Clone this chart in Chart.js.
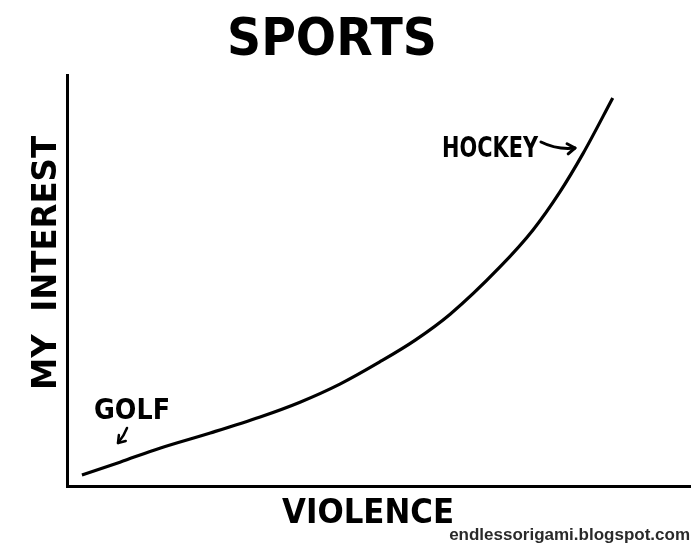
<!DOCTYPE html>
<html lang="en">
<head>
<meta charset="UTF-8">
<title>Sports</title>
<script src="https://cdn.jsdelivr.net/npm/chart.js@4.4.1/dist/chart.umd.min.js"></script>
<style>
  html, body { margin: 0; padding: 0; background: #fff; }
  #wrap { width: 700px; height: 559px; position: relative; }
</style>
</head>
<body>
<div id="wrap"><canvas id="myChart" width="700" height="559"></canvas></div>
<script>
// violence (x) vs my interest (y), 0-100 scale
var violence = [2.4, 8.5, 14.9, 23.0, 31.0, 37.4, 43.8, 50.2, 55.9, 61.5, 69.5, 74.8, 79.1, 82.8, 87.6];
var interest = [2.7, 5.8, 9.2, 12.9, 16.8, 20.4, 24.8, 30.2, 35.5, 41.8, 53.3, 62.3, 71.5, 80.8, 94.4];
var titleText = "SPORTS";
var xLabel = "VIOLENCE";
var yLabel = "MY  INTEREST";
var notes = ["HOCKEY", "GOLF"];
var credit = "endlessorigami.blogspot.com";

var pts = [];
for (var i = 0; i < violence.length; i++) {
    pts.push({x: violence[i], y: interest[i]});
}

function arrow(ctx, x1, y1, cx, cy, x2, y2, head) {
    ctx.beginPath();
    ctx.moveTo(x1, y1);
    ctx.quadraticCurveTo(cx, cy, x2, y2);
    ctx.stroke();
    var a = Math.atan2(y2 - cy, x2 - cx);
    ctx.beginPath();
    ctx.moveTo(x2 - head * Math.cos(a - 0.6), y2 - head * Math.sin(a - 0.6));
    ctx.lineTo(x2, y2);
    ctx.lineTo(x2 - head * Math.cos(a + 0.6), y2 - head * Math.sin(a + 0.6));
    ctx.stroke();
}

// all the hand lettering
var sketchText = {
    id: 'sketchText',
    afterDraw: function(chart) {
        var ctx = chart.ctx;
        ctx.save();
        ctx.fillStyle = '#000';
        ctx.strokeStyle = '#000';
        ctx.lineCap = 'round';
        ctx.lineJoin = 'round';
        ctx.textAlign = 'center';
        ctx.textBaseline = 'alphabetic';

        ctx.font = '900 52px "DejaVu Sans"';
        ctx.fillText(titleText, 332, 55, 210);

        ctx.font = 'bold 34px "DejaVu Sans"';
        ctx.fillText(xLabel, 368, 523, 172);

        ctx.save();
        ctx.translate(56, 263);
        ctx.rotate(-Math.PI / 2);
        ctx.font = 'bold 34px "DejaVu Sans"';
        ctx.fillText(yLabel, 0, 0, 254);
        ctx.restore();

        ctx.font = 'bold 28px "DejaVu Sans"';
        ctx.fillText(notes[0], 490, 157, 96);
        ctx.fillText(notes[1], 132, 419, 76);

        ctx.lineWidth = 3;
        arrow(ctx, 541, 142, 557, 150, 575, 148, 9);
        ctx.lineWidth = 2.5;
        arrow(ctx, 127, 428, 124, 436, 118, 443, 8);

        ctx.font = 'bold 17px "Liberation Sans"';
        ctx.fillStyle = '#2a2a2a';
        ctx.textAlign = 'right';
        ctx.fillText(credit, 690, 540, 242);
        ctx.restore();
    }
};

const ctx = document.getElementById('myChart').getContext('2d');
const myChart = new Chart(ctx, {
    type: 'line',
    data: {
        datasets: [{
            data: pts,
            borderColor: '#000',
            borderWidth: 3.2,
            pointRadius: 0,
            fill: false,
            cubicInterpolationMode: 'monotone'
        }]
    },
    options: {
        responsive: false,
        animation: false,
        layout: { padding: { left: 67, top: 75, right: 10, bottom: 73 } },
        plugins: { legend: { display: false }, tooltip: { enabled: false }, title: { display: false } },
        scales: {
            x: {
                type: 'linear', min: 0, max: 100,
                grid: { display: false, drawTicks: false },
                ticks: { display: false },
                border: { display: true, color: '#000', width: 3 }
            },
            y: {
                type: 'linear', min: 0, max: 100,
                grid: { display: false, drawTicks: false },
                ticks: { display: false },
                border: { display: true, color: '#000', width: 3 }
            }
        }
    },
    plugins: [sketchText]
});
</script>
</body>
</html>
